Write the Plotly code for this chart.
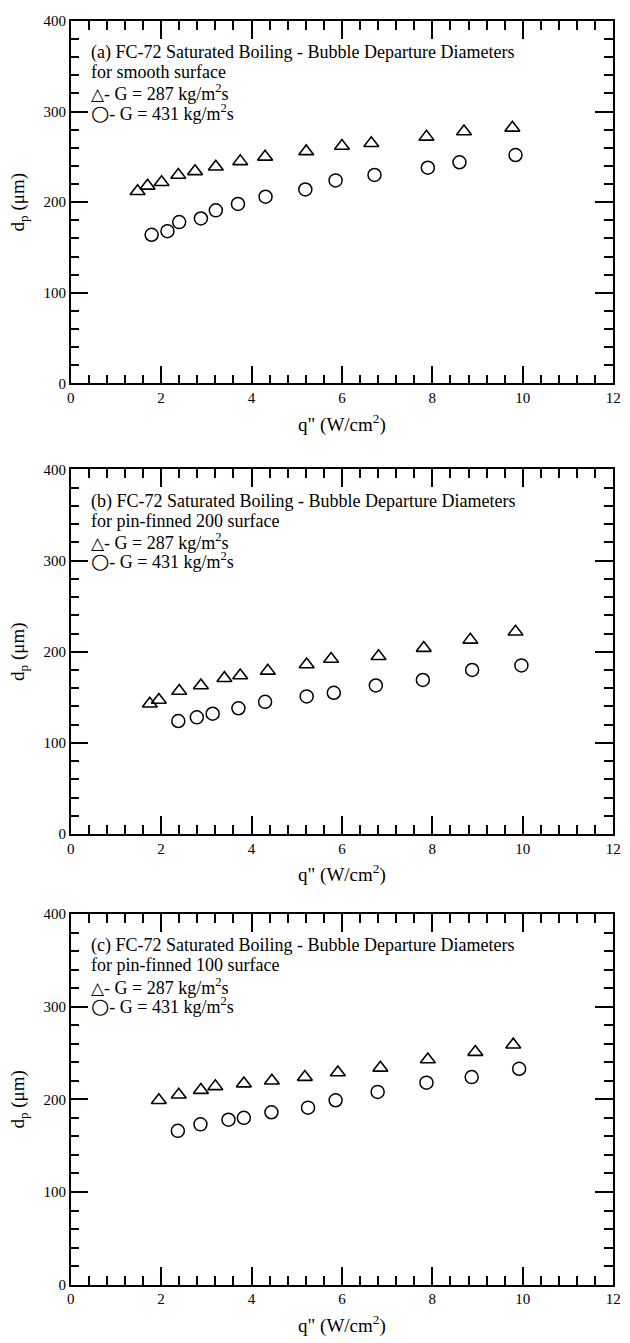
import plotly.graph_objects as go

# ---------------- data ----------------
panel_titles = [
    "(a) FC-72 Saturated Boiling - Bubble Departure Diameters",
    "(b) FC-72 Saturated Boiling - Bubble Departure Diameters",
    "(c) FC-72 Saturated Boiling - Bubble Departure Diameters",
]
panel_subtitles = ["for smooth surface", "for pin-finned 200 surface", "for pin-finned 100 surface"]
series_labels = ["G = 287 kg/m<sup>2</sup>s", "G = 431 kg/m<sup>2</sup>s"]

# panel (a) smooth
a_q287 = [1.48, 1.70, 2.01, 2.38, 2.75, 3.21, 3.75, 4.30, 5.21, 6.00, 6.65, 7.87, 8.70, 9.77]
a_d287 = [212, 218, 222, 230, 234, 239, 245, 250, 256, 262, 265, 272, 278, 282]
a_q431 = [1.79, 2.14, 2.40, 2.88, 3.21, 3.70, 4.31, 5.19, 5.86, 6.72, 7.90, 8.60, 9.84]
a_d431 = [164, 168, 178, 182, 191, 198, 206, 214, 224, 230, 238, 244, 252]

# panel (b) pin-finned 200
b_q287 = [1.75, 1.95, 2.40, 2.88, 3.40, 3.75, 4.36, 5.22, 5.76, 6.81, 7.81, 8.84, 9.84]
b_d287 = [143, 147, 157, 163, 171, 174, 179, 186, 192, 195, 204, 213, 222]
b_q431 = [2.38, 2.79, 3.14, 3.71, 4.30, 5.22, 5.82, 6.75, 7.79, 8.88, 9.97]
b_d431 = [124, 128, 132, 138, 145, 151, 155, 163, 169, 180, 185]

# panel (c) pin-finned 100
c_q287 = [1.95, 2.39, 2.88, 3.20, 3.83, 4.45, 5.18, 5.91, 6.85, 7.90, 8.95, 9.79]
c_d287 = [199, 205, 210, 214, 217, 220, 224, 229, 234, 243, 251, 259]
c_q431 = [2.37, 2.87, 3.49, 3.83, 4.44, 5.25, 5.86, 6.79, 7.87, 8.87, 9.92]
c_d431 = [166, 173, 178, 180, 186, 191, 199, 208, 218, 224, 233]

panels = [
    (a_q287, a_d287, a_q431, a_d431),
    (b_q287, b_d287, b_q431, b_d431),
    (c_q287, c_d287, c_q431, c_d431),
]

x_title = 'q" (W/cm<sup>2</sup>)'
y_title = "d<sub>p</sub> (μm)"

# ---------------- layout ----------------
W, H = 630, 1343
FONT = "Liberation Serif, Times New Roman, serif"
plot_left, plot_right = 68, 621
panel_px = [(13, 380), (467, 836), (917, 1292)]  # top, bottom pixel rows

fig = go.Figure()

for i, (q1, d1, q2, d2) in enumerate(panels):
    ax = "" if i == 0 else str(i + 1)
    fig.add_trace(go.Scatter(
        x=q1, y=d1, mode="markers", xaxis="x" + ax, yaxis="y" + ax,
        marker=dict(symbol="triangle-up-open", size=13, color="black", line=dict(width=1.6, color="black")),
        showlegend=False, hoverinfo="skip"))
    fig.add_trace(go.Scatter(
        x=q2, y=d2, mode="markers", xaxis="x" + ax, yaxis="y" + ax,
        marker=dict(symbol="circle-open", size=13, color="black", line=dict(width=1.5, color="black")),
        showlegend=False, hoverinfo="skip"))

    top, bot = panel_px[i]
    common = dict(showline=True, linewidth=1.5, linecolor="black", mirror="allticks",
                  ticks="inside", ticklen=18, tickwidth=1.5, tickcolor="black",
                  showgrid=False, zeroline=False, ticklabeloverflow="allow")
    fig.layout["xaxis" + ax] = dict(
        common, range=[0, 12], tick0=0, dtick=2, anchor="y" + ax,
        domain=[plot_left / W, plot_right / W],
        minor=dict(ticks="inside", ticklen=9, tickwidth=1.5, tickcolor="black", dtick=0.4, tick0=0),
        title=dict(text=x_title, standoff=12))
    fig.layout["yaxis" + ax] = dict(
        common, range=[0, 400], tick0=0, dtick=100, anchor="x" + ax,
        domain=[1 - bot / H, 1 - top / H],
        minor=dict(ticks="inside", ticklen=9, tickwidth=1.5, tickcolor="black", dtick=20, tick0=0),
        title=dict(text=y_title, standoff=14))

    lines = [panel_titles[i], panel_subtitles[i],
             "<span style='font-family:DejaVu Sans;font-size:17px'>△</span>- " + series_labels[0],
             "<span style='font-family:DejaVu Sans;font-size:21px'>○</span>- " + series_labels[1]]
    offsets = [32, 52, 73, 93]
    for txt, off in zip(lines, offsets):
        fig.add_annotation(x=87 / W, y=1 - (top + off) / H, xref="paper", yref="paper",
                           xanchor="left", yanchor="middle", showarrow=False, text=txt,
                           font=dict(family=FONT, size=18, color="black"))

fig.update_xaxes(tickfont_family=FONT, tickfont_size=15, tickfont_color="black",
                 title_font_family=FONT, title_font_size=19, title_font_color="black")
fig.update_yaxes(tickfont_family=FONT, tickfont_size=15, tickfont_color="black",
                 title_font_family=FONT, title_font_size=19, title_font_color="black")

fig.update_layout(width=W, height=H, autosize=False,
                  margin=dict(l=0, r=0, t=0, b=0),
                  font=dict(family=FONT, color="black"),
                  paper_bgcolor="white", plot_bgcolor="white")

fig.write_html("out.html", config={"displayModeBar": False},
               post_script="document.body.style.margin='0';document.body.style.overflow='hidden';")
